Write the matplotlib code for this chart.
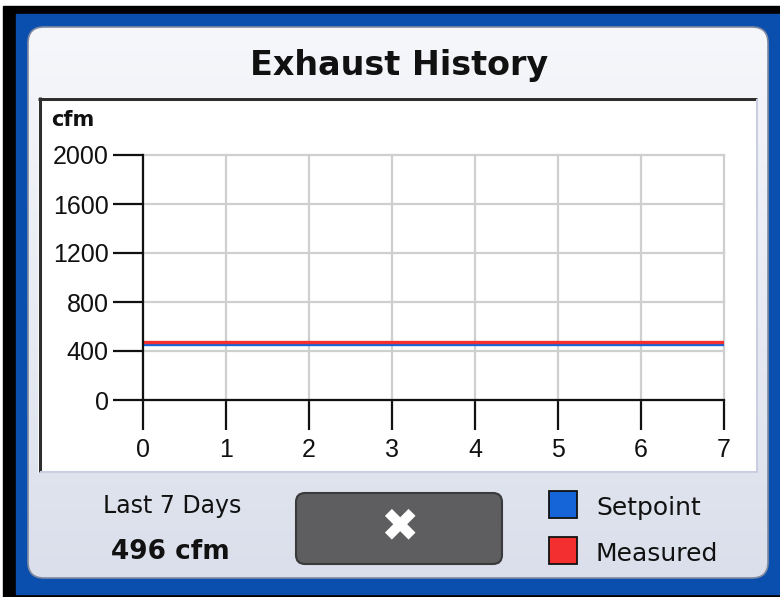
"""Exhaust history panel: setpoint vs measured airflow over the last 7 days."""

import matplotlib

matplotlib.use("Agg")

import matplotlib.pyplot as plt
import numpy as np
from matplotlib.colors import LinearSegmentedColormap
from matplotlib.patches import FancyBboxPatch, Rectangle

# --- data -------------------------------------------------------------------
days = [0, 1, 2, 3, 4, 5, 6, 7]
setpoint = [458, 458, 458, 458, 458, 458, 458, 458]
measured = [476, 476, 476, 476, 476, 476, 476, 476]
x_ticks = [0, 1, 2, 3, 4, 5, 6, 7]
y_ticks = [0, 400, 800, 1200, 1600, 2000]
title = "Exhaust History"
unit = "cfm"
period_label = "Last 7 Days"
average_label = "496 cfm"
series_names = ["Setpoint", "Measured"]
series_colors = ["#1665d8", "#f3302f"]

W, H = 780, 597
fig = plt.figure(figsize=(W / 100, H / 100), dpi=100)
fig.patch.set_facecolor("white")

# background layer in pixel coordinates (origin top-left)
bg = fig.add_axes([0, 0, 1, 1])
bg.set_xlim(0, W)
bg.set_ylim(H, 0)
bg.axis("off")

bg.add_patch(Rectangle((3, 6), W, H, color="black"))
bg.add_patch(Rectangle((16, 14), W, 580, color="#0b4fae"))

# rounded light panel with a soft vertical gradient
r = 16
px0, py0, px1, py1 = 28, 27, 768, 578
panel = FancyBboxPatch((px0 + r, py0 + r), px1 - px0 - 2 * r, py1 - py0 - 2 * r,
                       boxstyle=f"round,pad={r}", facecolor="none",
                       edgecolor="#7f8aa0", lw=1.2, zorder=2)
bg.add_patch(panel)
grad = np.linspace(0, 1, 256).reshape(-1, 1)
cmap = LinearSegmentedColormap.from_list("panel", ["#f6f7fb", "#dadfeb"])
img = bg.imshow(grad, cmap=cmap, extent=(px0, px1, py1, py0), origin="upper",
                aspect="auto", zorder=1)
img.set_clip_path(panel)

# sunken white plot box
bg.add_patch(Rectangle((38, 97), 720, 376, facecolor="white", edgecolor="none", zorder=3))
bg.plot([38, 757], [98.5, 98.5], color="#2e2e2e", lw=2.2, solid_capstyle="butt", zorder=4)
bg.plot([39.5, 39.5], [97, 472], color="#2e2e2e", lw=2.2, solid_capstyle="butt", zorder=4)
bg.plot([40, 758], [472, 472], color="#c9cfe0", lw=1.5, solid_capstyle="butt", zorder=4)
bg.plot([757, 757], [99, 473], color="#c9cfe0", lw=1.5, solid_capstyle="butt", zorder=4)

bg.text(399, 75, title, ha="center", va="baseline", fontsize=24,
        fontweight="bold", color="#111111", zorder=5)
bg.text(51, 126, unit, ha="left", va="baseline", fontsize=15,
        fontweight="bold", color="#111111", zorder=5)

# footer: period summary, close button, legend
bg.text(172, 513, period_label, ha="center", va="baseline", fontsize=17,
        color="#111111", zorder=5)
bg.text(170, 559, average_label, ha="center", va="baseline", fontsize=19,
        fontweight="bold", color="#111111", zorder=5)

br = 9
bg.add_patch(FancyBboxPatch((296 + br, 493 + br), 206 - 2 * br, 71 - 2 * br,
                            boxstyle=f"round,pad={br}", facecolor="#5e5d60",
                            edgecolor="#3a3a3a", lw=1.5, zorder=5))
bg.text(399.5, 528, "\u2716", ha="center", va="center", fontsize=33,
        color="white", zorder=6)

for i, (name, col) in enumerate(zip(series_names, series_colors)):
    y = 491 + i * 46
    bg.add_patch(Rectangle((549, y), 28, 27, facecolor=col, edgecolor="#111111",
                           lw=1.3, zorder=5))
    bg.text(596, y + 24, name, ha="left", va="baseline", fontsize=18,
            color="#111111", zorder=5)

# --- chart ------------------------------------------------------------------
ax = fig.add_axes([143 / W, (H - 400) / H, 581 / W, 245 / H])
ax.set_facecolor("none")
ax.set_zorder(10)
ax.plot(days, setpoint, color=series_colors[0], lw=2.4, solid_capstyle="butt", zorder=4)
ax.plot(days, measured, color=series_colors[1], lw=2.4, solid_capstyle="butt", zorder=5)

ax.set_xlim(0, 7)
ax.set_ylim(0, 2000)
ax.set_xticks(x_ticks)
ax.set_yticks(y_ticks)
ax.grid(True, color="#cfcfcf", lw=1.6, clip_on=False, zorder=1)
ax.set_axisbelow(True)
for side in ("top", "right"):
    ax.spines[side].set_visible(False)
for side in ("left", "bottom"):
    ax.spines[side].set_linewidth(1.6)
    ax.spines[side].set_color("#111111")
    ax.spines[side].set_zorder(6)
ax.tick_params(direction="out", length=21.6, width=1.6, color="#111111",
               labelsize=18, labelcolor="#111111")
ax.tick_params(axis="y", pad=3)
ax.tick_params(axis="x", pad=6)
for lab in ax.get_xticklabels() + ax.get_yticklabels():
    lab.set_fontfamily("Liberation Sans")

fig.savefig("out.png", dpi=100)
plt.close(fig)
